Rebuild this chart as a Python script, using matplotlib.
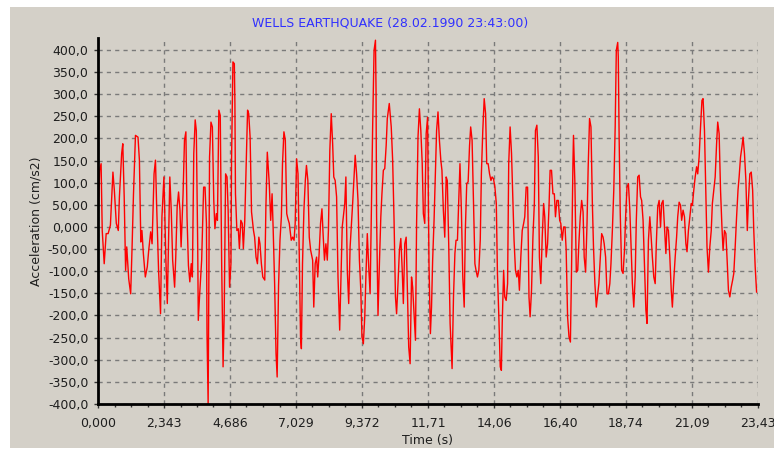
import numpy as np
import matplotlib
matplotlib.use("Agg")
import matplotlib.pyplot as plt
from matplotlib.patches import Rectangle
from matplotlib.ticker import FixedLocator, AutoMinorLocator

# Wells earthquake record: turning points of the acceleration trace
time_s = [
    0.00, 0.06, 0.11, 0.15, 0.22, 0.29, 0.36, 0.44, 0.53, 0.58, 0.65, 0.72, 0.76, 0.84, 0.88,
    0.93, 0.98, 1.02, 1.09, 1.16, 1.21, 1.26, 1.33, 1.42, 1.47, 1.52, 1.56, 1.61, 1.68, 1.75,
    1.80, 1.87, 1.92, 1.99, 2.04, 2.08, 2.15, 2.22, 2.27, 2.34, 2.41, 2.46, 2.51, 2.55, 2.60,
    2.65, 2.72, 2.76, 2.81, 2.86, 2.91, 2.95, 3.02, 3.07, 3.12, 3.16, 3.21, 3.26, 3.31, 3.35,
    3.40, 3.45, 3.49, 3.54, 3.56, 3.61, 3.68, 3.75, 3.80, 3.85, 3.87, 3.91, 3.96, 4.01, 4.06,
    4.11, 4.15, 4.20, 4.24, 4.29, 4.34, 4.39, 4.44, 4.48, 4.53, 4.58, 4.62, 4.67, 4.72, 4.74,
    4.79, 4.84, 4.86, 4.88, 4.93, 4.98, 5.02, 5.07, 5.12, 5.16, 5.21, 5.26, 5.31, 5.35, 5.40,
    5.45, 5.52, 5.56, 5.61, 5.66, 5.71, 5.75, 5.80, 5.85, 5.92, 5.96, 6.01,
    6.08, 6.13, 6.18, 6.22, 6.27, 6.32, 6.36, 6.41, 6.46, 6.51, 6.55, 6.60, 6.65, 6.70, 6.74,
    6.79, 6.86, 6.91, 6.96, 7.00, 7.05, 7.10, 7.14, 7.19, 7.22, 7.26, 7.31, 7.36, 7.40, 7.45,
    7.50, 7.55, 7.62, 7.66, 7.71, 7.76, 7.80, 7.85, 7.90, 7.95, 7.99, 8.04, 8.09, 8.14, 8.18,
    8.23, 8.28, 8.33, 8.37, 8.42, 8.47, 8.52, 8.58, 8.62, 8.67, 8.71, 8.76, 8.80, 8.85, 8.90,
    8.95, 9.00, 9.04, 9.09, 9.13, 9.18, 9.23, 9.28, 9.33, 9.37, 9.42, 9.47, 9.51, 9.56, 9.61,
    9.66, 9.70, 9.75, 9.80, 9.85, 9.87, 9.89, 9.94, 9.99, 10.04, 10.08, 10.13, 10.18, 10.23, 10.27,
    10.34, 10.41, 10.46, 10.51, 10.56, 10.60, 10.65, 10.70, 10.75, 10.80, 10.84, 10.89, 10.94, 10.99, 11.03,
    11.08, 11.13, 11.17, 11.22, 11.27, 11.31, 11.36, 11.41, 11.46, 11.51, 11.55, 11.60, 11.65, 11.70, 11.75,
    11.80, 11.84, 11.88, 11.93, 11.98, 12.02, 12.07, 12.12, 12.17, 12.21, 12.26, 12.31, 12.36, 12.40, 12.45,
    12.50, 12.55, 12.57, 12.62, 12.67, 12.71, 12.76, 12.81, 12.85, 12.90, 12.95, 13.00, 13.04, 13.09, 13.14,
    13.19, 13.23, 13.28, 13.33, 13.38, 13.42, 13.47, 13.52, 13.57, 13.61, 13.66, 13.71, 13.76, 13.80, 13.85,
    13.90, 13.95, 13.99, 14.04, 14.09, 14.14, 14.18, 14.23, 14.28, 14.32, 14.35, 14.40, 14.44, 14.49, 14.54,
    14.58, 14.63, 14.68, 14.73, 14.77, 14.82, 14.87, 14.92, 14.96, 15.01, 15.06, 15.11, 15.15, 15.20, 15.25,
    15.30, 15.34, 15.39, 15.44, 15.49, 15.53, 15.58, 15.63, 15.67, 15.72, 15.77, 15.82, 15.86, 15.91, 15.96,
    16.01, 16.05, 16.10, 16.15, 16.20, 16.24, 16.29, 16.34, 16.39, 16.43, 16.48, 16.53, 16.58, 16.62, 16.67,
    16.72, 16.77, 16.81, 16.86, 16.88, 16.93, 16.98, 17.03, 17.07, 17.12, 17.17, 17.22, 17.26, 17.31, 17.36,
    17.40, 17.45, 17.50, 17.55, 17.59, 17.64, 17.69, 17.74, 17.78, 17.88, 17.93, 17.97, 18.02, 18.07, 18.12,
    18.17, 18.21, 18.26, 18.31, 18.36, 18.40, 18.45, 18.47, 18.50, 18.54, 18.59, 18.64, 18.69, 18.73, 18.78,
    18.83, 18.88, 18.92, 18.97, 19.02, 19.07, 19.11, 19.16, 19.21, 19.26, 19.30, 19.35, 19.40, 19.45, 19.49,
    19.54, 19.59, 19.63, 19.68, 19.73, 19.78, 19.82, 19.87, 19.92, 19.97, 20.01, 20.06, 20.11, 20.16, 20.20,
    20.25, 20.30, 20.35, 20.39, 20.44, 20.49, 20.54, 20.58, 20.63, 20.68, 20.72, 20.77, 20.82, 20.87, 20.91,
    20.96, 21.01, 21.06, 21.10, 21.15, 21.20, 21.25, 21.29, 21.34, 21.39, 21.44, 21.48, 21.53, 21.58, 21.62,
    21.67, 21.72, 21.77, 21.81, 21.86, 21.91, 21.96, 22.00, 22.05, 22.10, 22.15, 22.19, 22.24, 22.29, 22.34,
    22.38, 22.43, 22.48, 22.53, 22.57, 22.62, 22.67, 22.72, 22.76, 22.81, 22.86, 22.90, 22.95, 23.00, 23.05,
    23.09, 23.14, 23.19, 23.24, 23.28, 23.33, 23.38,
]
accel_cms2 = [
    20, 128, 143, -8, -83, -15, -15, 4, 124, 83, 8, -8, 68, 166, 188,
    68, -98, -45, -117, -151, -45, 75, 207, 203, 151, -34, -8, -60, -113, -90,
    -53, -11, -38, 120, 151, 53, -98, -196, 23, 113, -75, -173, -8, 113, 38,
    -75, -136, -68, 45, 79, 38, -45, 75, 196, 215, 23, -87, -124, -83, -113,
    166, 242, 218, -45, -211, -151, -75, 90, 90, 8, -241, -400, 158, 237, 226,
    60, -4, 30, 15, 264, 252, -83, -316, -196, 120, 113, 38, -136, -83, 147,
    373, 369, 279, 75, -8, -4, -49, 15, 8, -49, 15, 143, 264, 256, 203,
    34, -8, -23, -68, -83, -23, -38, -83, -113, -120, 45, 169,
    98, 15, 75, -8, -128, -286, -339, -132, -30, 23, 143, 215, 196, 30, 19,
    8, -30, -23, -30, 8, 154, 120, -45, -248, -275, -83, 38, 105, 139, 105,
    -23, -53, -75, -181, -83, -68, -113, -60, 8, 41, -15, -75, -38, -75, -8,
    173, 256, 188, 113, 105, 68, -113, -233, -128, 0, 23, 53, 113, -98, -173,
    -45, 8, 53, 113, 162, 120, 60, -75, -143, -248, -264, -203, -113, -15, -90,
    -151, 19, 226, 399, 422, 309, 23, -200, -83, 23, 75, 128, 132, 184, 245,
    279, 226, 151, 15, -158, -196, -128, -53, -26, -98, -173, -38, -23, -158, -271,
    -309, -113, -136, -196, -256, 8, 203, 267, 218, 143, 30, 8, 211, 248, -83,
    -241, -181, -75, 15, 128, 218, 260, 196, 151, 128, 38, -23, 113, 105, -38,
    -218, -294, -320, -158, -60, -30, -30, 68, 143, 38, -113, -181, -8, 98, 102,
    184, 226, 196, 53, -83, -98, -113, -98, -30, 120, 218, 290, 256, 143, 143,
    120, 105, 113, 109, 90, 53, -105, -203, -316, -324, -218, -98, -158, -166, -128,
    143, 226, 166, 53, -30, -98, -113, -98, -143, -68, -8, 8, 23, 90, 90,
    -158, -203, -143, -23, 53, 218, 230, 158, -68, -128, -23, 53, 23, -68, -38,
    45, 128, 128, 75, 75, 23, 60, 60, 15, 8, -30, 0, 0, -53, -203,
    -248, -260, -98, 143, 207, 98, -102, -98, -38, 23, 60, 34, -68, -102, 8,
    132, 245, 226, 53, -45, -128, -181, -151, -128, -15, -23, -38, -68, -151, -151,
    -128, -83, -8, 83, 226, 399, 417, 384, 203, 30, -98, -105, -53, 23, 90,
    98, 38, -38, -128, -181, -113, 15, 113, 117, 68, 60, 15, -90, -188, -218,
    -30, 23, -15, -68, -113, -128, -38, 45, 60, 0, 53, 60, 0, -60, 0,
    -8, -68, -143, -181, -120, -68, -23, 23, 56, 49, 15, 38, 23, -38, -56,
    -8, 23, 53, 49, 83, 113, 136, 120, 158, 226, 286, 290, 218, 68, -45,
    -102, -45, -8, 53, 83, 113, 188, 237, 211, 83, 0, -53, -8, -15, -83,
    -143, -158, -136, -120, -105, -45, 23, 83, 113, 158, 181, 203, 166, 105, -8,
    60, 120, 124, 83, -8, -90, -147,
]

x_ticks = [0.0, 2.343, 4.686, 7.029, 9.372, 11.715, 14.058, 16.401, 18.744, 21.087, 23.43]
x_labels = ["0,000", "2,343", "4,686", "7,029", "9,372", "11,71", "14,06", "16,40", "18,74", "21,09", "23,43"]
y_ticks = list(range(-400, 401, 50))
y_labels = ["-400,0", "-350,0", "-300,0", "-250,0", "-200,0", "-150,0", "-100,0", "-50,00", "0,000",
            "50,00", "100,0", "150,0", "200,0", "250,0", "300,0", "350,0", "400,0"]

panel = "#d4d0c8"
text_col = "#1e1e1e"
plt.rcParams['font.family'] = ['DejaVu Sans']

fig = plt.figure(figsize=(7.74, 4.5), dpi=100, facecolor="white")
# grey window panel behind everything, leaving a thin white margin
fig.patches.append(Rectangle((10 / 774, 2 / 450), 764 / 774, 441 / 450,
                             transform=fig.transFigure, facecolor=panel,
                             edgecolor="none", zorder=-10))

ax = fig.add_axes([98 / 774, 46 / 450, 660 / 774, 366 / 450])
ax.set_zorder(1)
ax.set_facecolor(panel)
ax.plot(time_s, accel_cms2, color="#ff0000", lw=1.0, zorder=3, clip_on=True)

ax.set_xlim(0, 23.43)
ax.set_ylim(-400, 427)

ax.xaxis.set_major_locator(FixedLocator(x_ticks))
ax.set_xticklabels(x_labels)
ax.xaxis.set_minor_locator(AutoMinorLocator(4))
ax.yaxis.set_major_locator(FixedLocator(y_ticks))
ax.set_yticklabels(y_labels)

ax.grid(True, which="major", color="#7a7a7a", lw=1.0, linestyle=(0, (3, 3)))
for s in ["top", "right"]:
    ax.spines[s].set_visible(False)
for s in ["left", "bottom"]:
    ax.spines[s].set_color("black")
    ax.spines[s].set_linewidth(2.0)
    ax.spines[s].set_zorder(4)

ax.tick_params(axis="both", which="major", length=3, width=1, color="#333333",
               labelsize=9, labelcolor=text_col)
ax.tick_params(axis="x", which="major", pad=6)
ax.tick_params(axis="x", which="minor", length=2, width=1, color="#333333")
ax.tick_params(axis="y", which="major", pad=4)

ax.set_xlabel("Time (s)", fontsize=9, color=text_col, labelpad=3)
ax.set_ylabel("Acceleration (cm/s2)", fontsize=9, color=text_col, labelpad=4)
fig.text(390 / 774, 1 - 23 / 450, "WELLS EARTHQUAKE (28.02.1990 23:43:00)",
         ha="center", va="center", fontsize=9, color="#3030ff")

fig.savefig("out.png", dpi=100, facecolor=fig.get_facecolor())
